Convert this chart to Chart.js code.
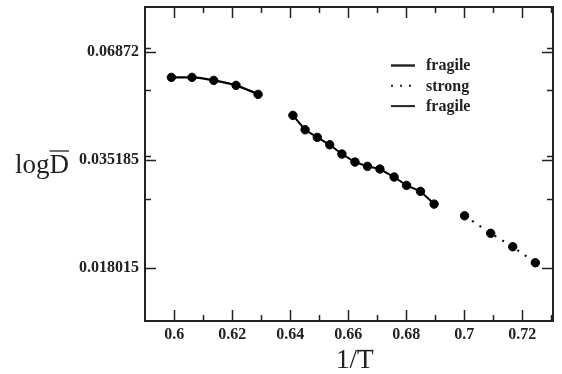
<!DOCTYPE html>
<html>
<head>
<meta charset="utf-8">
<script src="https://cdn.jsdelivr.net/npm/chart.js@4.4.1/dist/chart.umd.min.js"></script>
<style>
  html, body { margin: 0; padding: 0; background: #fff; }
  #wrap { position: relative; width: 562px; height: 374px; }
</style>
</head>
<body>
<div id="wrap"><canvas id="c" width="562" height="374"></canvas></div>
<script>
// log D vs 1/T : two fragile branches and one strong branch

// fragile branch at high T (small 1/T)
const fragile1X = [0.599, 0.6061, 0.6136, 0.6213, 0.6289];
const fragile1Y = [0.05864, 0.05864, 0.05755, 0.0558, 0.05277];
// fragile branch at intermediate T
const fragile2X = [0.6409, 0.6451, 0.6493, 0.6536, 0.6578, 0.6623,
                   0.6666, 0.6709, 0.6758, 0.6801, 0.6849, 0.6896];
const fragile2Y = [0.04633, 0.04238, 0.04043, 0.03861, 0.03646, 0.03469,
                   0.03378, 0.03322, 0.03161, 0.03002, 0.02893, 0.02673];
// strong branch at low T
const strongX = [0.7001, 0.7091, 0.7167, 0.7245];
const strongY = [0.02486, 0.0223, 0.02052, 0.01858];

const xTicks = [0.6, 0.62, 0.64, 0.66, 0.68, 0.7, 0.72];
const xTickLabels = ['0.6', '0.62', '0.64', '0.66', '0.68', '0.7', '0.72'];
const xMinorTicks = [0.61, 0.63, 0.65, 0.67, 0.69, 0.71, 0.73];
const yTicks = [0.018015, 0.035185, 0.06872];
const yTickLabels = ['0.018015', '0.035185', '0.06872'];
const yMinorTicks = [0.0704, 0.0542, 0.0360, 0.02758];

const legendOrder = [0, 2, 1];

function pts(xs, ys) {
    return xs.map(function (x, i) { return { x: x, y: ys[i] }; });
}

const FONT_FAMILY = '"Liberation Serif", "Times New Roman", serif';

// frame, inward ticks on all four sides, axis titles and the inset legend
const framePlugin = {
    id: 'frame',
    afterDraw: function (chart) {
        const ctx = chart.ctx;
        const a = chart.chartArea;
        const xs = chart.scales.x, ys = chart.scales.y;
        ctx.save();
        ctx.strokeStyle = '#222';
        ctx.lineWidth = 2;
        ctx.strokeRect(a.left, a.top, a.right - a.left, a.bottom - a.top);

        ctx.lineWidth = 1.5;
        function xTick(v, len) {
            const px = Math.round(xs.getPixelForValue(v)) + 0.5;
            ctx.beginPath();
            ctx.moveTo(px, a.bottom); ctx.lineTo(px, a.bottom - len);
            ctx.moveTo(px, a.top); ctx.lineTo(px, a.top + len);
            ctx.stroke();
        }
        function yTick(v, len) {
            const py = Math.round(ys.getPixelForValue(v)) + 0.5;
            ctx.beginPath();
            ctx.moveTo(a.left, py); ctx.lineTo(a.left + len, py);
            ctx.moveTo(a.right, py); ctx.lineTo(a.right - len, py);
            ctx.stroke();
        }
        xTicks.forEach(function (v) { xTick(v, 11); });
        xMinorTicks.forEach(function (v) { xTick(v, 6); });
        yTicks.forEach(function (v) { yTick(v, 11); });
        yMinorTicks.forEach(function (v) { yTick(v, 6); });

        // axis titles with overbars
        ctx.fillStyle = '#222';
        ctx.strokeStyle = '#222';
        ctx.font = '27px ' + FONT_FAMILY;
        ctx.textBaseline = 'alphabetic';
        ctx.textAlign = 'left';
        const yx = 15, yb = 173;
        ctx.fillText('log', yx, yb);
        const wLog = ctx.measureText('log').width;
        ctx.fillText('D', yx + wLog, yb);
        const wD = ctx.measureText('D').width;
        ctx.lineWidth = 1.3;
        ctx.beginPath();
        ctx.moveTo(yx + wLog, 151); ctx.lineTo(yx + wLog + wD, 151);
        ctx.stroke();

        const xx = 336, xb = 368;
        ctx.fillText('1/', xx, xb);
        const w1 = ctx.measureText('1/').width;
        ctx.fillText('T', xx + w1, xb);
        const wT = ctx.measureText('T').width;
        ctx.beginPath();
        ctx.moveTo(xx + w1, 350.5); ctx.lineTo(xx + w1 + wT, 350.5);
        ctx.stroke();

        // legend
        ctx.font = 'bold 16px ' + FONT_FAMILY;
        legendOrder.forEach(function (di, row) {
            const ds = chart.data.datasets[di];
            const ly = 65.5 + row * 20.3;
            ctx.save();
            ctx.lineWidth = ds.borderWidth;
            ctx.setLineDash(ds.borderDash || []);
            ctx.beginPath();
            ctx.moveTo(391, ly); ctx.lineTo(415, ly);
            ctx.stroke();
            ctx.restore();
            ctx.fillText(ds.label, 426, ly + 4.8);
        });
        ctx.restore();
    }
};

new Chart(document.getElementById('c'), {
    type: 'scatter',
    data: {
        datasets: [
            {
                label: 'fragile',
                data: pts(fragile1X, fragile1Y),
                showLine: true,
                borderColor: '#000',
                backgroundColor: '#000',
                borderWidth: 2.4,
                cubicInterpolationMode: 'monotone',
                pointRadius: 4.2,
                pointBorderWidth: 1,
                pointBorderColor: '#000',
                pointBackgroundColor: '#000'
            },
            {
                label: 'fragile',
                data: pts(fragile2X, fragile2Y),
                showLine: true,
                borderColor: '#000',
                backgroundColor: '#000',
                borderWidth: 2,
                tension: 0,
                pointRadius: 4.2,
                pointBorderWidth: 1,
                pointBorderColor: '#000',
                pointBackgroundColor: '#000'
            },
            {
                label: 'strong',
                data: pts(strongX, strongY),
                showLine: true,
                borderColor: '#000',
                backgroundColor: '#000',
                borderWidth: 2,
                borderDash: [2, 7],
                tension: 0,
                pointRadius: 4.2,
                pointBorderWidth: 1,
                pointBorderColor: '#000',
                pointBackgroundColor: '#000'
            }
        ]
    },
    options: {
        responsive: false,
        animation: false,
        layout: { padding: { top: 7, right: 9, left: 0, bottom: 0 } },
        plugins: {
            legend: { display: false },
            tooltip: { enabled: false }
        },
        scales: {
            x: {
                type: 'linear',
                min: 0.5899,
                max: 0.73059,
                grid: { display: false, drawTicks: false },
                border: { display: false },
                afterBuildTicks: function (s) {
                    s.ticks = xTicks.map(function (v) { return { value: v }; });
                },
                afterFit: function (s) {
                    s.height = 53;
                    s.paddingLeft = 0; s.paddingRight = 0;
                },
                ticks: {
                    padding: 4,
                    color: '#222',
                    font: { family: FONT_FAMILY, size: 16, weight: 'bold' },
                    callback: function (v) {
                        const i = xTicks.indexOf(v);
                        return i >= 0 ? xTickLabels[i] : '';
                    }
                }
            },
            y: {
                type: 'logarithmic',
                min: 0.01295,
                max: 0.0907,
                grid: { display: false, drawTicks: false },
                border: { display: false },
                afterBuildTicks: function (s) {
                    s.ticks = yTicks.map(function (v) { return { value: v }; });
                },
                afterFit: function (s) {
                    s.width = 145;
                    s.paddingTop = 0; s.paddingBottom = 0;
                },
                ticks: {
                    padding: 6,
                    color: '#222',
                    font: { family: FONT_FAMILY, size: 16, weight: 'bold' },
                    callback: function (v) {
                        const i = yTicks.indexOf(v);
                        return i >= 0 ? yTickLabels[i] : '';
                    }
                }
            }
        }
    },
    plugins: [framePlugin]
});
</script>
</body>
</html>
